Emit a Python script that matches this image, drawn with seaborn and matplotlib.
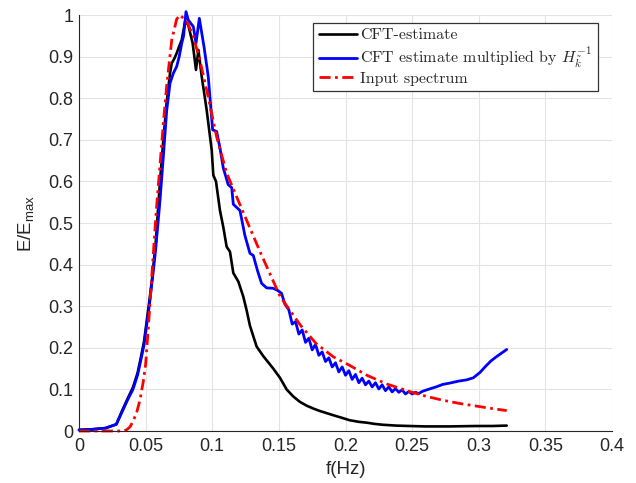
import matplotlib
matplotlib.use("Agg")
import matplotlib.pyplot as plt
import seaborn as sns
import pandas as pd

# ---------------- data ----------------
f_cft = [0, 0.01, 0.02, 0.028, 0.0325, 0.0365, 0.0405, 0.0440, 0.0465, 0.0488, 0.0527,
         0.055, 0.0575, 0.0608, 0.0633, 0.0658, 0.0683, 0.0696, 0.0715, 0.0733, 0.0752,
         0.0771, 0.0796, 0.082, 0.0853, 0.0878, 0.0896, 0.0921, 0.0958, 0.0996, 0.1008,
         0.1028, 0.1058, 0.1083, 0.1108, 0.1133, 0.1158, 0.1196, 0.1233, 0.1258, 0.1283,
         0.1333, 0.1383, 0.1458, 0.1508, 0.1558, 0.1608, 0.1658, 0.1708, 0.1758, 0.1808,
         0.1858, 0.1908, 0.198, 0.203, 0.21, 0.216, 0.222, 0.228, 0.238, 0.248, 0.26,
         0.278, 0.298, 0.31, 0.321]
E_cft = [0.003, 0.004, 0.007, 0.016, 0.05, 0.078, 0.105, 0.14, 0.178, 0.215, 0.31,
         0.37, 0.45, 0.60, 0.70, 0.79, 0.86, 0.884, 0.895, 0.908, 0.925,
         0.94, 0.984, 0.976, 0.932, 0.868, 0.916, 0.852, 0.772, 0.675, 0.615,
         0.600, 0.53, 0.49, 0.443, 0.431, 0.38, 0.359, 0.323, 0.29, 0.253,
         0.203, 0.18, 0.15, 0.128, 0.10, 0.083, 0.07, 0.061, 0.054, 0.048,
         0.043, 0.038, 0.031, 0.026, 0.022, 0.02, 0.017, 0.015, 0.013, 0.012, 0.011,
         0.011, 0.012, 0.012, 0.013]

f_cor = [0, 0.01, 0.02, 0.028, 0.0325, 0.0365, 0.0405, 0.044, 0.0465, 0.0488, 0.0527,
         0.055, 0.0575, 0.0608, 0.0633, 0.0658, 0.0683, 0.0708, 0.0733, 0.0752, 0.0771,
         0.0785, 0.0803, 0.082, 0.0858, 0.0878, 0.0903, 0.0938, 0.097, 0.1003, 0.1033,
         0.1058, 0.1083, 0.112, 0.1146, 0.1158, 0.1208, 0.1245, 0.1283, 0.1308, 0.134,
         0.137, 0.1408, 0.1458, 0.149, 0.152, 0.1545,
         0.1575, 0.16, 0.1625, 0.165, 0.1675, 0.17, 0.1725, 0.175, 0.1775, 0.18,
         0.1825, 0.185, 0.1875, 0.19, 0.1925, 0.195, 0.1975, 0.20, 0.2025, 0.205,
         0.2075, 0.21, 0.2125, 0.215, 0.2175, 0.22, 0.2225, 0.225, 0.2275, 0.23,
         0.2325, 0.235, 0.2375, 0.24, 0.2425, 0.245, 0.2475, 0.25, 0.2525, 0.255, 0.2575,
         0.262, 0.268, 0.273, 0.278, 0.285, 0.291, 0.296, 0.301, 0.305, 0.309, 0.313,
         0.317, 0.321]
E_cor = [0.002, 0.004, 0.007, 0.016, 0.047, 0.075, 0.10, 0.135, 0.172, 0.207, 0.30,
         0.363, 0.435, 0.555, 0.66, 0.77, 0.836, 0.86, 0.876, 0.90, 0.932,
         0.95, 1.008, 0.988, 0.972, 0.932, 0.992, 0.924, 0.852, 0.724, 0.72,
         0.68, 0.632, 0.592, 0.585, 0.545, 0.53, 0.47, 0.427, 0.422, 0.385,
         0.355, 0.344, 0.343, 0.338, 0.331, 0.305,
         0.291, 0.257, 0.263, 0.233, 0.243, 0.213, 0.223, 0.195, 0.208, 0.182,
         0.190, 0.167, 0.176, 0.154, 0.164, 0.142, 0.154, 0.134, 0.145, 0.124,
         0.136, 0.116, 0.127, 0.111, 0.120, 0.106, 0.116, 0.101, 0.111, 0.097,
         0.106, 0.094, 0.102, 0.093, 0.099, 0.089, 0.095, 0.089, 0.093, 0.090, 0.095,
         0.100, 0.106, 0.112, 0.115, 0.120, 0.123, 0.128, 0.141, 0.155, 0.168, 0.178,
         0.187, 0.196]

f_in = [0, 0.02, 0.0335, 0.0358, 0.0383, 0.0408, 0.0433, 0.0458, 0.0483, 0.050, 0.0525,
        0.055, 0.058, 0.0608, 0.0633, 0.0658, 0.0696, 0.0733, 0.0758, 0.081, 0.0858,
        0.0908, 0.0958, 0.1033, 0.1108, 0.12, 0.128, 0.136, 0.151, 0.166, 0.178, 0.191,
        0.203, 0.216, 0.231, 0.248, 0.261, 0.273, 0.286, 0.298, 0.31, 0.321]
E_in = [0, 0, 0, 0.003, 0.01, 0.025, 0.045, 0.075, 0.12, 0.16, 0.27,
        0.39, 0.53, 0.64, 0.74, 0.83, 0.94, 0.99, 1.0, 0.984, 0.948,
        0.89, 0.82, 0.707, 0.62, 0.55, 0.49, 0.43, 0.323, 0.255, 0.21, 0.178,
        0.158, 0.134, 0.113, 0.095, 0.083, 0.074, 0.066, 0.06, 0.054, 0.049]

labels = ["CFT-estimate",
          r"CFT estimate multiplied by $H_{\tilde{k}}^{-1}$",
          "Input spectrum"]
x_ticks = [0, 0.05, 0.1, 0.15, 0.2, 0.25, 0.3, 0.35, 0.4]
x_ticklabels = ["0", "0.05", "0.1", "0.15", "0.2", "0.25", "0.3", "0.35", "0.4"]
y_ticks = [0, 0.1, 0.2, 0.3, 0.4, 0.5, 0.6, 0.7, 0.8, 0.9, 1.0]
y_ticklabels = ["0", "0.1", "0.2", "0.3", "0.4", "0.5", "0.6", "0.7", "0.8", "0.9", "1"]

# ---------------- style ----------------
sns.set_theme(style="white")
plt.rcParams["font.family"] = ["Liberation Sans", "DejaVu Sans"]
plt.rcParams["mathtext.fontset"] = "custom"
plt.rcParams["mathtext.rm"] = "Liberation Sans"
plt.rcParams["mathtext.it"] = "Liberation Sans:italic"

fig = plt.figure(figsize=(6.36, 4.83), dpi=100)
ax = fig.add_axes([79 / 636, 52 / 483, 533 / 636, 416 / 483])

df_cft = pd.DataFrame({"f": f_cft, "E": E_cft})
df_cor = pd.DataFrame({"f": f_cor, "E": E_cor})
df_in = pd.DataFrame({"f": f_in, "E": E_in})

sns.lineplot(data=df_cft, x="f", y="E", ax=ax, color="black", lw=1.9,
             sort=False, estimator=None, label=labels[0], clip_on=False)
sns.lineplot(data=df_cor, x="f", y="E", ax=ax, color="#0000ff", lw=2.0,
             sort=False, estimator=None, label=labels[1], clip_on=False)
sns.lineplot(data=df_in, x="f", y="E", ax=ax, color="#ff0000", lw=2.0,
             sort=False, estimator=None, label=labels[2], clip_on=False,
             dashes=False, linestyle=(0, (4.0, 1.6, 1.0, 1.6)))

ax.set_xlim(0, 0.4)
ax.set_ylim(0, 1.0)
ax.set_xticks(x_ticks)
ax.set_xticklabels(x_ticklabels)
ax.set_yticks(y_ticks)
ax.set_yticklabels(y_ticklabels)
ax.grid(True, color="#e3e3e3", lw=0.8)
ax.set_axisbelow(True)
for s in ["top", "right"]:
    ax.spines[s].set_visible(False)
for s in ["left", "bottom"]:
    ax.spines[s].set_color("#262626")
    ax.spines[s].set_linewidth(0.8)
ax.tick_params(direction="in", length=4, width=0.8, color="#262626",
               labelsize=13, labelcolor="#262626", pad=5)
ax.tick_params(axis="y", pad=4)

ax.set_xlabel("f(Hz)", fontsize=13.5, color="#262626", labelpad=4)
ax.set_ylabel(r"E/E$_{\mathrm{max}}$", fontsize=13.5, color="#262626", labelpad=9)

leg = ax.legend(loc="upper right", bbox_to_anchor=(0.9737, 0.9815), borderaxespad=0,
                prop={"family": "cmr10", "size": 11.5}, frameon=True, fancybox=False,
                edgecolor="#333333", framealpha=1, handlelength=2.4,
                handletextpad=0.2, labelspacing=0.12, borderpad=0.35)
leg.get_frame().set_linewidth(0.9)
for t in leg.get_texts():
    t.set_math_fontfamily("cm")

fig.savefig("out.png", dpi=100)
